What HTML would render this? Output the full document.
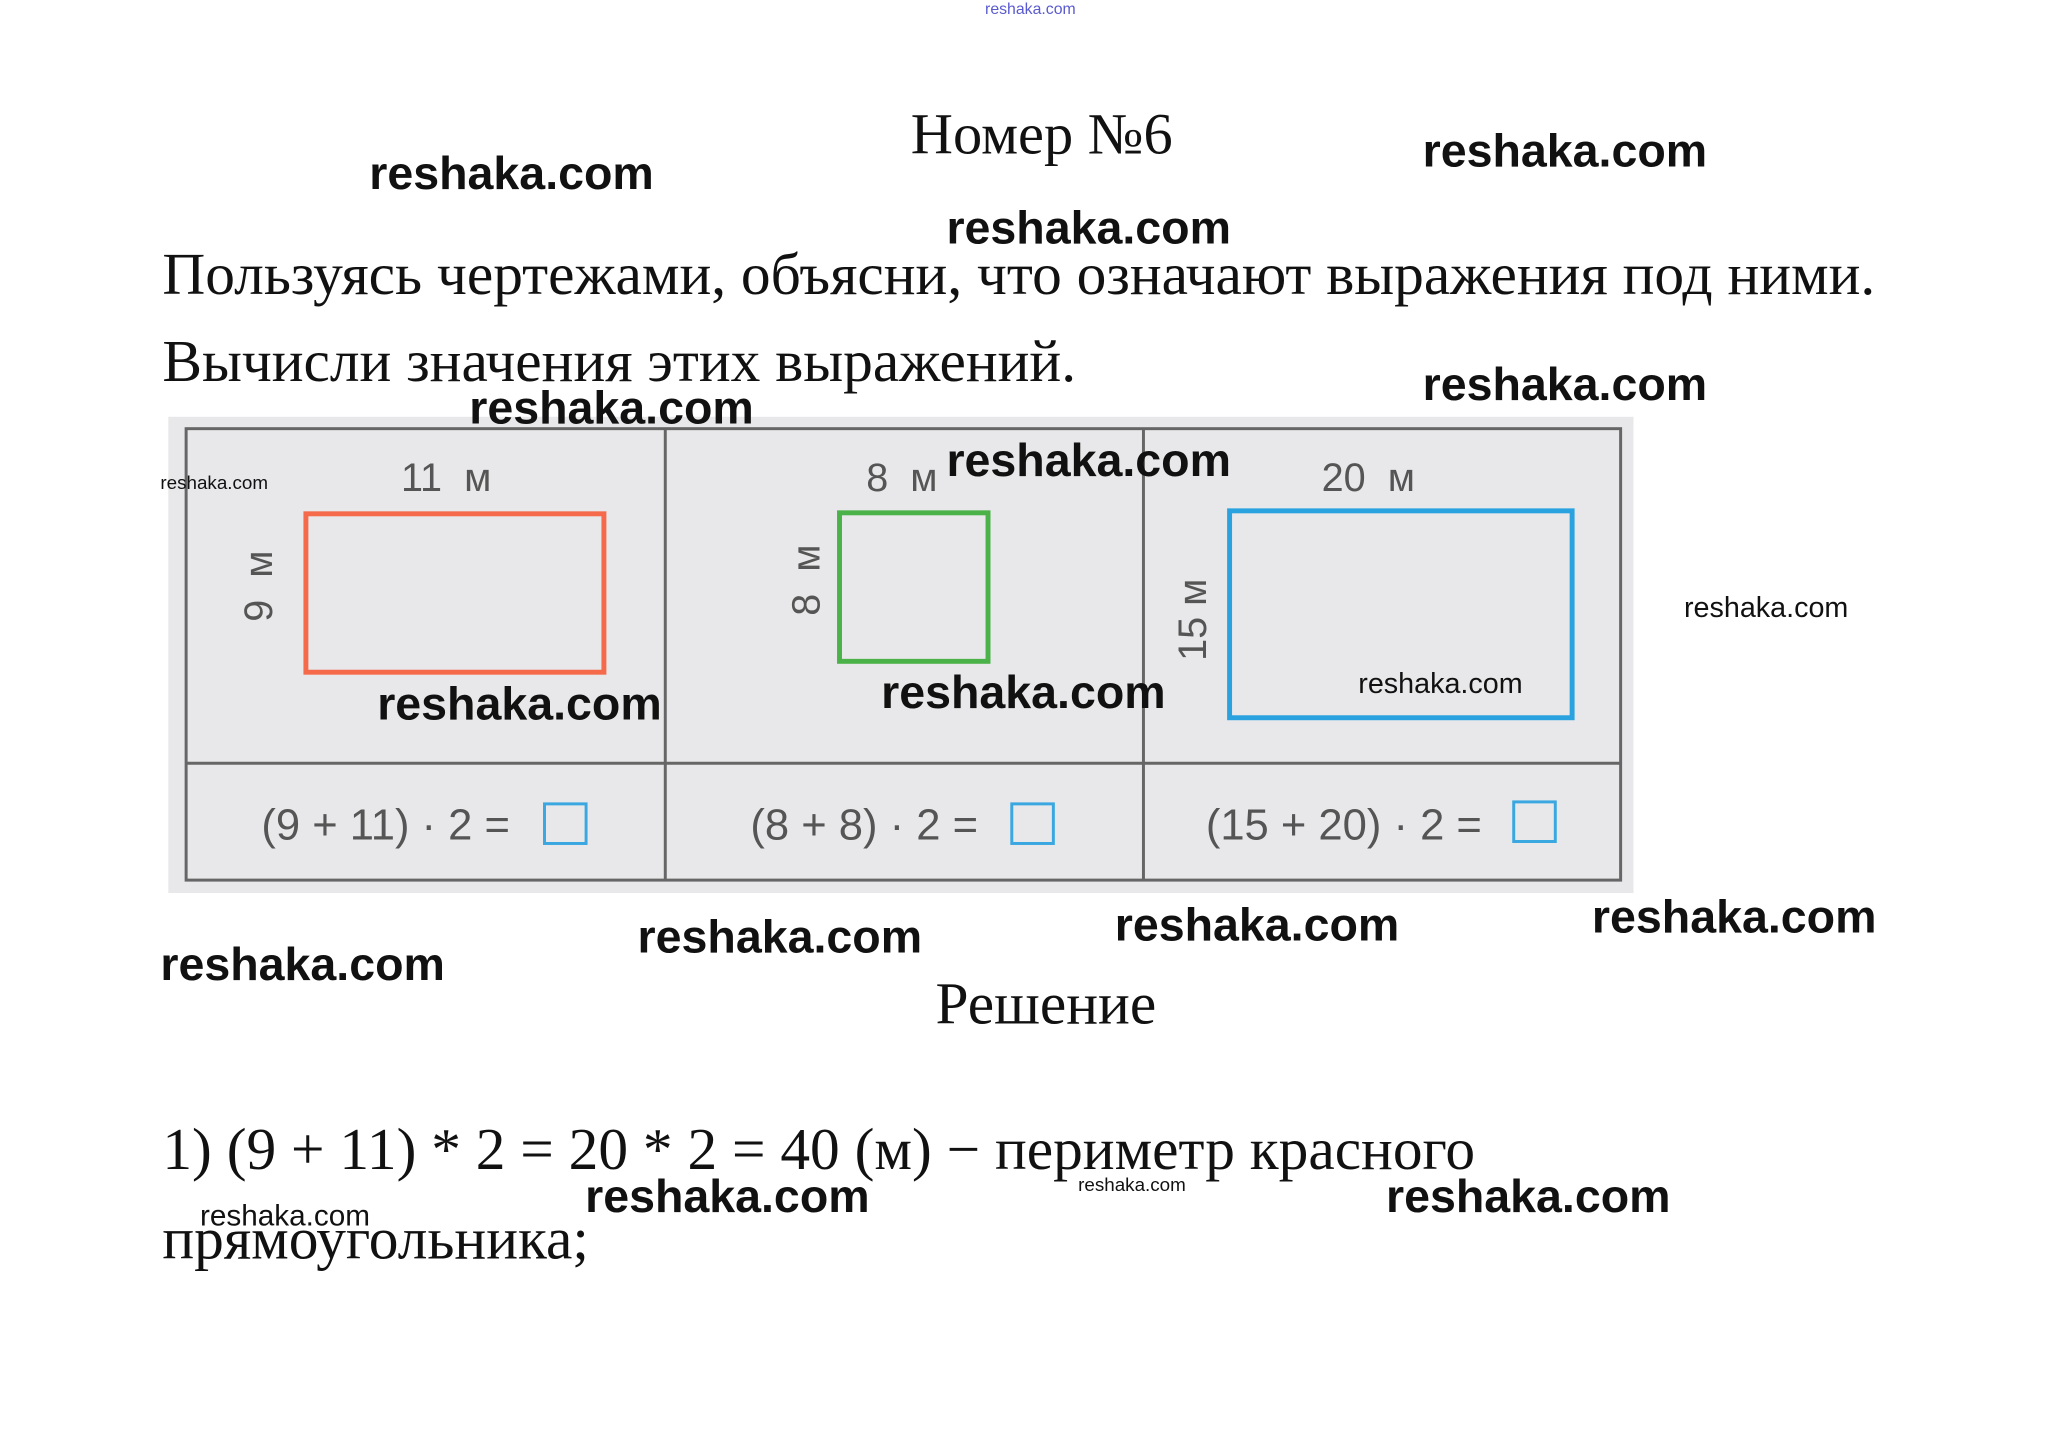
<!DOCTYPE html>
<html><head><meta charset="utf-8"><style>
html,body{margin:0;padding:0;background:#fff;}
body{width:2063px;height:1435px;position:relative;overflow:hidden;}
#r{position:absolute;left:0;top:0;width:2063px;height:1435px;transform:scale(0.99);transform-origin:0 0;}
.a{position:absolute;white-space:nowrap;line-height:1;}
.s{font-family:"Liberation Serif","DejaVu Serif",serif;color:#111;}
.w{font-family:"Liberation Sans",sans-serif;font-weight:bold;color:#111;}
.w48{font-size:47px;}
.p{font-family:"Liberation Sans",sans-serif;color:#555;}
.v{transform:rotate(-90deg);transform-origin:center;}
</style></head><body><div id="r">
<div class="a p" style="left:995px;top:2px;font-size:16px;color:#5a5ad0;">reshaka.com</div>
<div class="a s" style="left:920px;top:106px;font-size:59px;">Номер №6</div>
<div class="a s" style="left:164px;top:247px;font-size:60px;">Пользуясь чертежами, объясни, что означают выражения под ними.</div>
<div class="a s" style="left:164px;top:335px;font-size:60px;">Вычисли значения этих выражений.</div>

<div class="a" style="left:170px;top:421px;width:1480px;height:481px;background:#e8e8ea;"></div>
<svg class="a" style="left:0;top:0" width="2063" height="1435">
<g stroke="#666" stroke-width="3" fill="none">
<rect x="188" y="433" width="1449" height="456"/>
<line x1="188" y1="771" x2="1637" y2="771"/>
<line x1="672" y1="433" x2="672" y2="889"/>
<line x1="1155" y1="433" x2="1155" y2="889"/>
</g>
<rect x="309" y="519" width="301" height="160" fill="none" stroke="#f46a4a" stroke-width="5"/>
<rect x="848" y="518" width="150" height="150" fill="none" stroke="#4bb24a" stroke-width="5"/>
<rect x="1242" y="516" width="346" height="209" fill="none" stroke="#2aa2e0" stroke-width="5"/>
<rect x="550" y="812" width="42" height="40" fill="none" stroke="#3aa7e0" stroke-width="3"/>
<rect x="1022" y="812" width="42" height="40" fill="none" stroke="#3aa7e0" stroke-width="3"/>
<rect x="1529" y="810" width="42" height="40" fill="none" stroke="#3aa7e0" stroke-width="3"/>
</svg>
<div class="a p" style="left:405px;top:463px;font-size:40px;">11&nbsp;&nbsp;м</div>
<div class="a p" style="left:875px;top:463px;font-size:40px;">8&nbsp;&nbsp;м</div>
<div class="a p" style="left:1335px;top:463px;font-size:40px;">20&nbsp;&nbsp;м</div>
<div class="a p v" style="left:222px;top:572px;width:80px;text-align:center;font-size:40px;">9&nbsp;&nbsp;м</div>
<div class="a p v" style="left:775px;top:566px;width:80px;text-align:center;font-size:40px;">8&nbsp;&nbsp;м</div>
<div class="a p v" style="left:1160px;top:606px;width:90px;text-align:center;font-size:40px;">15&nbsp;м</div>
<div class="a p" style="left:264px;top:812px;font-size:44px;">(9 + 11) · 2 =</div>
<div class="a p" style="left:758px;top:812px;font-size:44px;">(8 + 8) · 2 =</div>
<div class="a p" style="left:1218px;top:812px;font-size:44px;">(15 + 20) · 2 =</div>

<div class="a s" style="left:945px;top:984px;font-size:60px;">Решение</div>
<div class="a s" style="left:164px;top:1131px;font-size:60px;">1) (9 + 11) * 2 = 20 * 2 = 40 (м) − периметр красного</div>
<div class="a s" style="left:164px;top:1221px;font-size:60px;">прямоугольника;</div>

<div class="a w w48" style="left:373px;top:151px;">reshaka.com</div>
<div class="a w w48" style="left:1437px;top:128px;">reshaka.com</div>
<div class="a w w48" style="left:956px;top:206px;">reshaka.com</div>
<div class="a w w48" style="left:474px;top:388px;">reshaka.com</div>
<div class="a w w48" style="left:1437px;top:364px;">reshaka.com</div>
<div class="a w w48" style="left:956px;top:441px;">reshaka.com</div>
<div class="a w w48" style="left:381px;top:687px;">reshaka.com</div>
<div class="a w w48" style="left:890px;top:675px;">reshaka.com</div>
<div class="a w w48" style="left:162px;top:950px;">reshaka.com</div>
<div class="a w w48" style="left:644px;top:922px;">reshaka.com</div>
<div class="a w w48" style="left:1126px;top:910px;">reshaka.com</div>
<div class="a w w48" style="left:1608px;top:902px;">reshaka.com</div>
<div class="a w w48" style="left:591px;top:1184px;">reshaka.com</div>
<div class="a w w48" style="left:1400px;top:1184px;">reshaka.com</div>
<div class="a w" style="left:1701px;top:600px;font-size:29px;font-weight:normal;">reshaka.com</div>
<div class="a w" style="left:1372px;top:677px;font-size:29px;font-weight:normal;">reshaka.com</div>
<div class="a w" style="left:202px;top:1214px;font-size:30px;font-weight:normal;">reshaka.com</div>
<div class="a w" style="left:162px;top:479px;font-size:19px;font-weight:normal;">reshaka.com</div>
<div class="a w" style="left:1089px;top:1188px;font-size:19px;font-weight:normal;">reshaka.com</div>
</div></body></html>
